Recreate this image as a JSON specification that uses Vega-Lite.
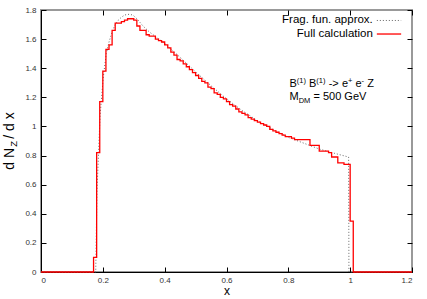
{
  "$schema": "https://vega.github.io/schema/vega-lite/v6.json",
  "width": 371,
  "height": 262,
  "autosize": {"type": "none"},
  "padding": {"left": 41, "top": 10, "right": 15, "bottom": 27},
  "background": "white",
  "config": {
    "font": "Liberation Sans",
    "view": {"stroke": "#999", "strokeWidth": 2},
    "axis": {
      "grid": false,
      "labelFont": "Liberation Sans",
      "labelFontSize": 8,
      "labelColor": "#333",
      "tickColor": "#000",
      "domainColor": "#000",
      "tickSize": -5,
      "labelPadding": 10,
      "titleFont": "Liberation Sans",
      "titleFontWeight": "normal",
      "titleColor": "#000"
    }
  },
  "datasets": {
    "full": [
      {"x": 0, "y": 0}, {"x": 0.17, "y": 0.10}, {"x": 0.18, "y": 0.82}, {"x": 0.19, "y": 1.17},
      {"x": 0.20, "y": 1.38}, {"x": 0.21, "y": 1.53}, {"x": 0.22, "y": 1.56}, {"x": 0.23, "y": 1.66},
      {"x": 0.24, "y": 1.71}, {"x": 0.25, "y": 1.71}, {"x": 0.26, "y": 1.72}, {"x": 0.27, "y": 1.73},
      {"x": 0.28, "y": 1.74}, {"x": 0.29, "y": 1.74}, {"x": 0.30, "y": 1.73}, {"x": 0.31, "y": 1.69},
      {"x": 0.32, "y": 1.66}, {"x": 0.33, "y": 1.66}, {"x": 0.34, "y": 1.63}, {"x": 0.35, "y": 1.62},
      {"x": 0.36, "y": 1.62}, {"x": 0.37, "y": 1.60}, {"x": 0.38, "y": 1.59}, {"x": 0.39, "y": 1.58},
      {"x": 0.40, "y": 1.56}, {"x": 0.41, "y": 1.54}, {"x": 0.42, "y": 1.51}, {"x": 0.43, "y": 1.49},
      {"x": 0.44, "y": 1.46}, {"x": 0.45, "y": 1.45}, {"x": 0.46, "y": 1.43}, {"x": 0.47, "y": 1.41},
      {"x": 0.48, "y": 1.39}, {"x": 0.49, "y": 1.37}, {"x": 0.50, "y": 1.35}, {"x": 0.51, "y": 1.33},
      {"x": 0.52, "y": 1.31}, {"x": 0.53, "y": 1.30}, {"x": 0.54, "y": 1.27}, {"x": 0.55, "y": 1.26},
      {"x": 0.56, "y": 1.23}, {"x": 0.57, "y": 1.22}, {"x": 0.58, "y": 1.20}, {"x": 0.59, "y": 1.19},
      {"x": 0.60, "y": 1.17}, {"x": 0.61, "y": 1.15}, {"x": 0.62, "y": 1.14}, {"x": 0.63, "y": 1.12},
      {"x": 0.64, "y": 1.10}, {"x": 0.65, "y": 1.09}, {"x": 0.66, "y": 1.08}, {"x": 0.67, "y": 1.06},
      {"x": 0.68, "y": 1.05}, {"x": 0.69, "y": 1.04}, {"x": 0.70, "y": 1.03}, {"x": 0.71, "y": 1.02},
      {"x": 0.72, "y": 1.01}, {"x": 0.73, "y": 1.00}, {"x": 0.74, "y": 0.98}, {"x": 0.75, "y": 0.97},
      {"x": 0.76, "y": 0.96}, {"x": 0.77, "y": 0.95}, {"x": 0.78, "y": 0.94}, {"x": 0.79, "y": 0.93},
      {"x": 0.80, "y": 0.93}, {"x": 0.81, "y": 0.92}, {"x": 0.82, "y": 0.91}, {"x": 0.83, "y": 0.91},
      {"x": 0.84, "y": 0.91}, {"x": 0.85, "y": 0.91}, {"x": 0.86, "y": 0.91}, {"x": 0.87, "y": 0.87},
      {"x": 0.88, "y": 0.87}, {"x": 0.89, "y": 0.87}, {"x": 0.90, "y": 0.83}, {"x": 0.91, "y": 0.83},
      {"x": 0.92, "y": 0.83}, {"x": 0.93, "y": 0.82}, {"x": 0.94, "y": 0.79}, {"x": 0.95, "y": 0.79},
      {"x": 0.96, "y": 0.75}, {"x": 0.97, "y": 0.75}, {"x": 0.98, "y": 0.74}, {"x": 0.99, "y": 0.74},
      {"x": 1.00, "y": 0.35}, {"x": 1.01, "y": 0}, {"x": 1.2, "y": 0}
    ],
    "frag": [
      {"x": 0, "y": 0}, {"x": 0.177, "y": 0}, {"x": 0.181, "y": 0.55}, {"x": 0.191, "y": 1.07},
      {"x": 0.201, "y": 1.33}, {"x": 0.211, "y": 1.50}, {"x": 0.22, "y": 1.58}, {"x": 0.23, "y": 1.65},
      {"x": 0.24, "y": 1.70}, {"x": 0.25, "y": 1.73}, {"x": 0.26, "y": 1.75}, {"x": 0.27, "y": 1.765},
      {"x": 0.28, "y": 1.77}, {"x": 0.29, "y": 1.77}, {"x": 0.30, "y": 1.76}, {"x": 0.31, "y": 1.74},
      {"x": 0.32, "y": 1.715}, {"x": 0.33, "y": 1.69}, {"x": 0.35, "y": 1.65}, {"x": 0.40, "y": 1.57},
      {"x": 0.45, "y": 1.475}, {"x": 0.50, "y": 1.375}, {"x": 0.55, "y": 1.28}, {"x": 0.60, "y": 1.19},
      {"x": 0.65, "y": 1.11}, {"x": 0.70, "y": 1.04}, {"x": 0.75, "y": 0.98}, {"x": 0.80, "y": 0.925},
      {"x": 0.85, "y": 0.885}, {"x": 0.90, "y": 0.845}, {"x": 0.95, "y": 0.815}, {"x": 0.995, "y": 0.79},
      {"x": 0.996, "y": 0}, {"x": 1.2, "y": 0}
    ],
    "legendText": [
      {"x": 1.0733, "y": 1.728, "t": "Frag. fun. approx."},
      {"x": 1.0733, "y": 1.635, "t": "Full calculation"}
    ],
    "legendFrag": [{"x": 1.0863, "x2": 1.1649, "y": 1.728}],
    "legendFull": [{"x": 1.0863, "x2": 1.1649, "y": 1.635}],
    "annoBase": [
      {"x": 0.8037, "y": 1.2706, "t": "B"},
      {"x": 0.8671, "y": 1.2706, "t": "B"},
      {"x": 0.9305, "y": 1.2706, "t": "->"},
      {"x": 0.9732, "y": 1.2706, "t": "e"},
      {"x": 1.0171, "y": 1.2706, "t": "e"},
      {"x": 1.0550, "y": 1.2706, "t": "Z"},
      {"x": 0.8037, "y": 1.1786, "t": "M"},
      {"x": 0.8813, "y": 1.1786, "t": "= 500 GeV"}
    ],
    "annoSmall": [
      {"x": 0.8274, "y": 1.298, "t": "(1)"},
      {"x": 0.8907, "y": 1.298, "t": "(1)"},
      {"x": 0.9929, "y": 1.298, "t": "+"},
      {"x": 1.0369, "y": 1.298, "t": "-"},
      {"x": 0.8335, "y": 1.1607, "t": "DM"}
    ],
    "ytitleBase": [
      {"x": -0.088, "y": 0.703, "t": "d N"},
      {"x": -0.088, "y": 0.916, "t": "/ d x"}
    ],
    "ytitleSub": [
      {"x": -0.078, "y": 0.861, "t": "Z"}
    ]
  },
  "resolve": {"axis": {"x": "independent", "y": "independent"}},
  "layer": [
    {
      "data": {"name": "frag"},
      "mark": {"type": "line", "stroke": "#666", "strokeWidth": 1, "strokeDash": [1, 2]},
      "encoding": {
        "x": {"field": "x", "type": "quantitative",
              "scale": {"domain": [0, 1.2], "nice": false},
              "axis": {"orient": "bottom", "values": [0, 0.2, 0.4, 0.6, 0.8, 1, 1.2], "format": "~g",
                       "title": "x", "titleFontSize": 12, "titlePadding": 1, "labelPadding": 9}},
        "y": {"field": "y", "type": "quantitative",
              "scale": {"domain": [0, 1.8], "nice": false},
              "axis": {"orient": "left", "values": [0, 0.2, 0.4, 0.6, 0.8, 1, 1.2, 1.4, 1.6, 1.8], "format": "~g",
                       "title": null}}
      }
    },
    {
      "data": {"name": "full"},
      "mark": {"type": "line", "interpolate": "step-after", "stroke": "#ff0000", "strokeWidth": 1.3},
      "encoding": {
        "x": {"field": "x", "type": "quantitative",
              "axis": {"orient": "top", "values": [0, 0.2, 0.4, 0.6, 0.8, 1, 1.2], "labels": false, "domain": false, "title": null}},
        "y": {"field": "y", "type": "quantitative",
              "axis": {"orient": "right", "values": [0, 0.2, 0.4, 0.6, 0.8, 1, 1.2, 1.4, 1.6, 1.8], "labels": false, "domain": false, "title": null}}
      }
    },
    {
      "data": {"name": "legendText"},
      "mark": {"type": "text", "align": "right", "baseline": "middle", "fontSize": 11.5, "font": "Liberation Sans", "color": "#000"},
      "encoding": {
        "x": {"field": "x", "type": "quantitative", "axis": null},
        "y": {"field": "y", "type": "quantitative", "axis": null},
        "text": {"field": "t"}
      }
    },
    {
      "data": {"name": "legendFrag"},
      "mark": {"type": "rule", "stroke": "#666", "strokeWidth": 1, "strokeDash": [1, 2]},
      "encoding": {
        "x": {"field": "x", "type": "quantitative", "axis": null},
        "x2": {"field": "x2"},
        "y": {"field": "y", "type": "quantitative", "axis": null}
      }
    },
    {
      "data": {"name": "legendFull"},
      "mark": {"type": "rule", "stroke": "#ff0000", "strokeWidth": 1.3},
      "encoding": {
        "x": {"field": "x", "type": "quantitative", "axis": null},
        "x2": {"field": "x2"},
        "y": {"field": "y", "type": "quantitative", "axis": null}
      }
    },
    {
      "data": {"name": "annoBase"},
      "mark": {"type": "text", "align": "left", "baseline": "alphabetic", "fontSize": 11, "font": "Liberation Sans", "color": "#000"},
      "encoding": {
        "x": {"field": "x", "type": "quantitative", "axis": null},
        "y": {"field": "y", "type": "quantitative", "axis": null},
        "text": {"field": "t"}
      }
    },
    {
      "data": {"name": "annoSmall"},
      "mark": {"type": "text", "align": "left", "baseline": "alphabetic", "fontSize": 7.5, "font": "Liberation Sans", "color": "#000"},
      "encoding": {
        "x": {"field": "x", "type": "quantitative", "axis": null},
        "y": {"field": "y", "type": "quantitative", "axis": null},
        "text": {"field": "t"}
      }
    },
    {
      "data": {"name": "ytitleBase"},
      "mark": {"type": "text", "align": "left", "baseline": "alphabetic", "angle": 270, "fontSize": 14, "font": "Liberation Sans", "color": "#000"},
      "encoding": {
        "x": {"field": "x", "type": "quantitative", "axis": null},
        "y": {"field": "y", "type": "quantitative", "axis": null},
        "text": {"field": "t"}
      }
    },
    {
      "data": {"name": "ytitleSub"},
      "mark": {"type": "text", "align": "left", "baseline": "alphabetic", "angle": 270, "fontSize": 9.5, "font": "Liberation Sans", "color": "#000"},
      "encoding": {
        "x": {"field": "x", "type": "quantitative", "axis": null},
        "y": {"field": "y", "type": "quantitative", "axis": null},
        "text": {"field": "t"}
      }
    }
  ]
}
